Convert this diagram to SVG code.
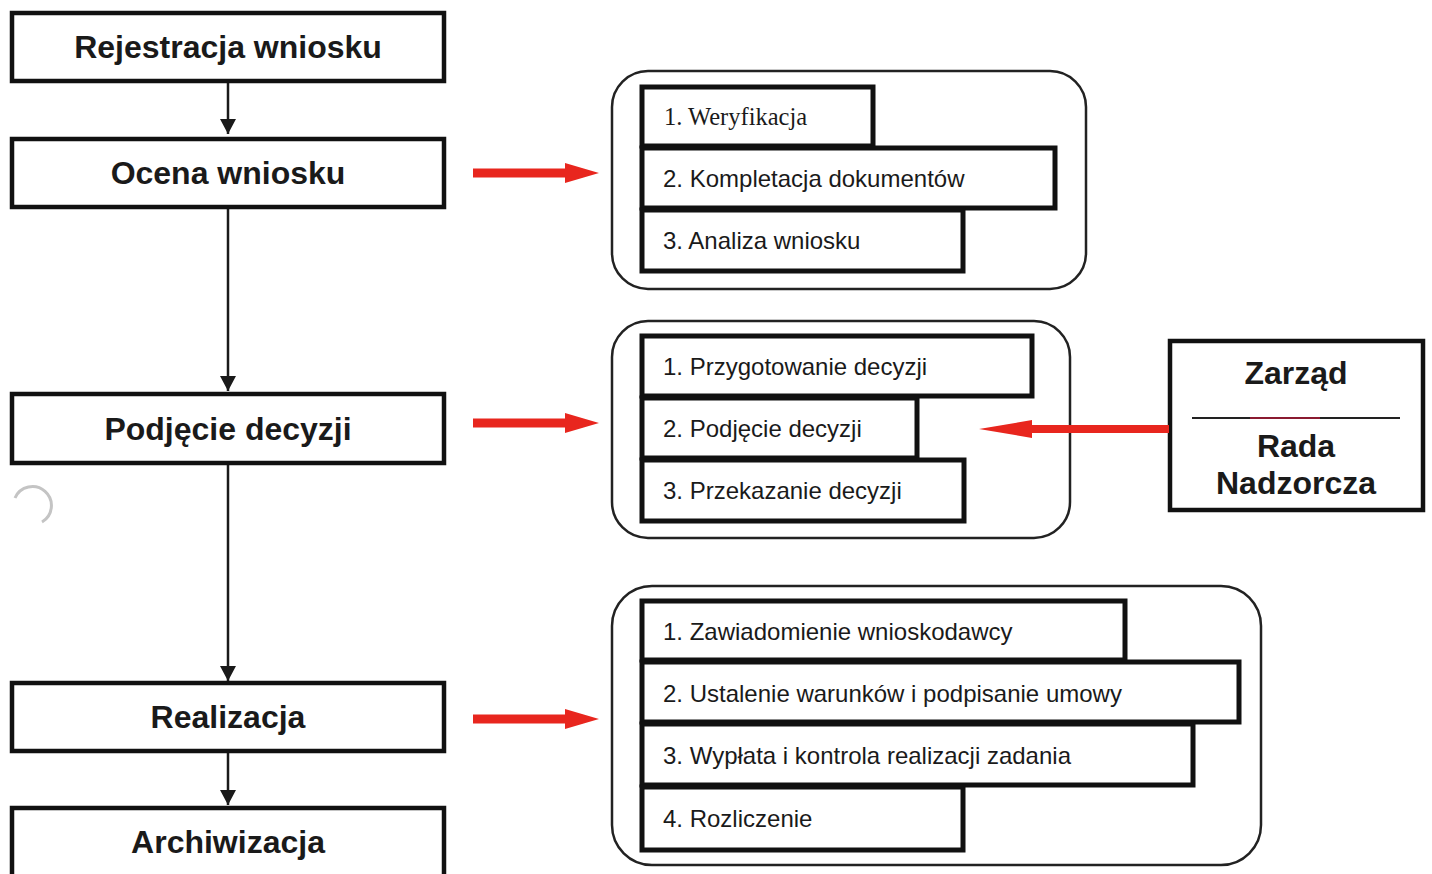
<svg xmlns="http://www.w3.org/2000/svg" width="1432" height="874" viewBox="0 0 1432 874">
<style>
.main{fill:#fff;stroke:#111;stroke-width:4.5}
.grp{fill:#fff;stroke:#222;stroke-width:2.5}
.item{fill:#fff;stroke:#111;stroke-width:5}
.bt{font-family:"Liberation Sans",Arial,sans-serif;font-weight:bold;font-size:32px;fill:#1a1a1a;text-anchor:middle}
.it{font-family:"Liberation Sans",Arial,sans-serif;font-size:24px;fill:#1a1a1a}
.its{font-family:"Liberation Serif","Times New Roman",serif;font-size:24.5px;fill:#1a1a1a}
.conn{stroke:#1a1a1a;stroke-width:2.5;fill:none}
.red{fill:#e8261e}
</style>
<defs>
<marker id="ah" markerWidth="16" markerHeight="16" refX="15" refY="8" orient="auto" markerUnits="userSpaceOnUse">
<path d="M0,0 L15,8 L0,16 Z" fill="#1a1a1a"/>
</marker>
</defs>
<rect width="1432" height="874" fill="#fff"/>

<g id="artifact">
<path d="M15,498 A19,19 0 1 1 42,522" fill="none" stroke="#c4c4c4" stroke-width="3"/>
</g>

<g id="connectors">
<line class="conn" x1="228" y1="82" x2="228" y2="134" marker-end="url(#ah)"/>
<line class="conn" x1="228" y1="207" x2="228" y2="391" marker-end="url(#ah)"/>
<line class="conn" x1="228" y1="464" x2="228" y2="681" marker-end="url(#ah)"/>
<line class="conn" x1="228" y1="752" x2="228" y2="805" marker-end="url(#ah)"/>
<path class="red" d="M473,168.5 L565,168.5 L565,163 L599,173 L565,183 L565,177.5 L473,177.5 Z"/>
<path class="red" d="M473,418.5 L565,418.5 L565,413 L599,423 L565,433 L565,427.5 L473,427.5 Z"/>
<path class="red" d="M473,714.5 L565,714.5 L565,709 L599,719 L565,729 L565,723.5 L473,723.5 Z"/>
</g>

<g id="n-rejestracja">
<rect class="main" x="12" y="13" width="432" height="68"/>
<text class="bt" x="228" y="58">Rejestracja wniosku</text>
</g>
<g id="n-ocena">
<rect class="main" x="12" y="139" width="432" height="68"/>
<text class="bt" x="228" y="184">Ocena wniosku</text>
</g>
<g id="n-podjecie">
<rect class="main" x="12" y="394" width="432" height="69"/>
<text class="bt" x="228" y="440">Podjęcie decyzji</text>
</g>
<g id="n-realizacja">
<rect class="main" x="12" y="683" width="432" height="68"/>
<text class="bt" x="228" y="728">Realizacja</text>
</g>
<g id="n-archiwizacja">
<rect class="main" x="12" y="808" width="432" height="80"/>
<text class="bt" x="228" y="853">Archiwizacja</text>
</g>

<g id="g-ocena">
<rect class="grp" x="612" y="71" width="474" height="218" rx="36"/>
<rect class="item" x="642" y="87" width="231" height="59"/>
<text class="its" x="664" y="125">1. Weryfikacja</text>
<rect class="item" x="642" y="148" width="413" height="60"/>
<text class="it" x="663" y="187">2. Kompletacja dokumentów</text>
<rect class="item" x="642" y="210" width="321" height="61"/>
<text class="it" x="663" y="249">3. Analiza wniosku</text>
</g>

<g id="g-decyzja">
<rect class="grp" x="612" y="321" width="458" height="217" rx="36"/>
<rect class="item" x="642" y="336" width="390" height="60"/>
<text class="it" x="663" y="375">1. Przygotowanie decyzji</text>
<rect class="item" x="642" y="398" width="275" height="60"/>
<text class="it" x="663" y="437">2. Podjęcie decyzji</text>
<rect class="item" x="642" y="460" width="322" height="61"/>
<text class="it" x="663" y="499">3. Przekazanie decyzji</text>
</g>

<g id="g-realizacja">
<rect class="grp" x="612" y="586" width="649" height="279" rx="40"/>
<rect class="item" x="642" y="601" width="483" height="59"/>
<text class="it" x="663" y="640">1. Zawiadomienie wnioskodawcy</text>
<rect class="item" x="642" y="662" width="597" height="60"/>
<text class="it" x="663" y="702">2. Ustalenie warunków i podpisanie umowy</text>
<rect class="item" x="642" y="724" width="551" height="61"/>
<text class="it" x="663" y="764">3. Wypłata i kontrola realizacji zadania</text>
<rect class="item" x="642" y="787" width="321" height="63"/>
<text class="it" x="663" y="827">4. Rozliczenie</text>
</g>

<g id="n-zarzad">
<rect class="main" x="1170" y="341" width="253" height="169"/>
<line x1="1192" y1="418" x2="1400" y2="418" stroke="#222" stroke-width="2"/>
<line x1="1250" y1="418" x2="1320" y2="418" stroke="#8a1a30" stroke-width="2"/>
<text class="bt" x="1296" y="384">Zarząd</text>
<text class="bt" x="1296" y="457">Rada</text>
<text class="bt" x="1296" y="494">Nadzorcza</text>
</g>

<g id="connector-zarzad">
<path class="red" d="M1169,425 L1032,425 L1032,420 L979,429 L1032,438 L1032,433 L1169,433 Z"/>
</g>
</svg>
